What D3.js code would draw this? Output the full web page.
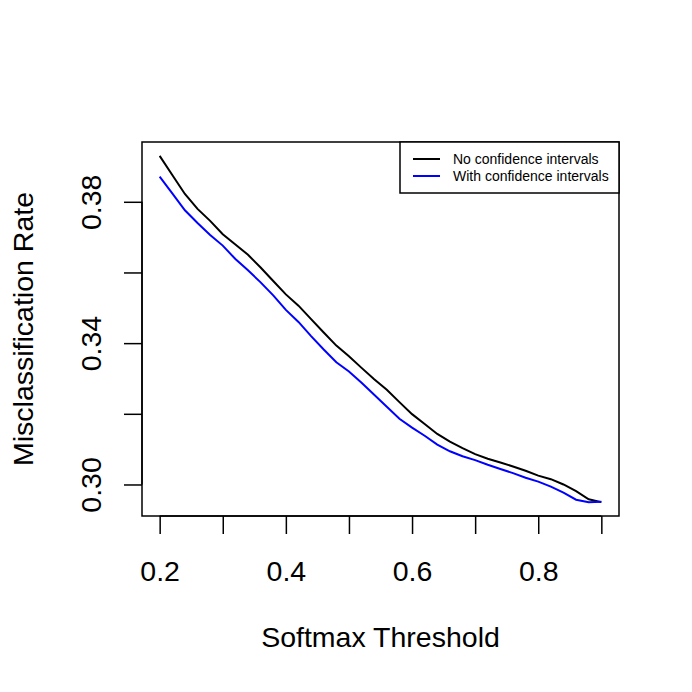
<!DOCTYPE html>
<html><head><meta charset="utf-8">
<script src="https://cdn.jsdelivr.net/npm/d3@7"></script>
<style>body{margin:0;background:#fff}svg{display:block}text{font-family:"Liberation Sans",Arial,sans-serif}</style>
</head><body><svg id="c" width="692" height="692"></svg>
<script>
const thresholds = [0.20,0.22,0.24,0.26,0.28,0.30,0.32,0.34,0.36,0.38,0.40,0.42,0.44,0.46,0.48,0.50,0.52,0.54,0.56,0.58,0.60,0.62,0.64,0.66,0.68,0.70,0.72,0.74,0.76,0.78,0.80,0.82,0.84,0.86,0.88,0.90];
const noCI = [0.3930,0.3876,0.3822,0.3780,0.3746,0.3708,0.3679,0.3650,0.3614,0.3576,0.3538,0.3506,0.3468,0.3430,0.3393,0.3363,0.3330,0.3298,0.3268,0.3233,0.3199,0.3171,0.3143,0.3121,0.3103,0.3086,0.3073,0.3062,0.3051,0.3039,0.3025,0.3015,0.3000,0.2981,0.2958,0.2950];
const withCI = [0.3871,0.3824,0.3776,0.3740,0.3706,0.3676,0.3638,0.3606,0.3572,0.3535,0.3494,0.3460,0.3420,0.3382,0.3346,0.3320,0.3288,0.3254,0.3220,0.3186,0.3161,0.3138,0.3113,0.3094,0.3080,0.3069,0.3056,0.3044,0.3032,0.3019,0.3008,0.2994,0.2977,0.2957,0.2950,0.2951];
const xTicks = [0.2,0.3,0.4,0.5,0.6,0.7,0.8,0.9];
const xLabels = [0.2,0.4,0.6,0.8];
const yTicks = [0.30,0.32,0.34,0.36,0.38];
const yLabels = [0.30,0.34,0.38];
const seriesNames = ["No confidence intervals","With confidence intervals"];
const seriesColors = ["#000000","#0000ff"];

const L=142,R=619,T=142,B=516;
const svg=d3.select("#c");
// R-style 4% padding
const xr=d3.extent(thresholds), xp=(xr[1]-xr[0])*0.04;
const allY=noCI.concat(withCI), yr=d3.extent(allY), yp=(yr[1]-yr[0])*0.04;
const x=d3.scaleLinear().domain([xr[0]-xp,xr[1]+xp]).range([L,R]);
const y=d3.scaleLinear().domain([yr[0]-yp,yr[1]+yp]).range([B,T]);

const fs=28.5;
// x axis
const xa=d3.axisBottom(x).tickValues(xTicks).tickSize(18).tickFormat(d=>xLabels.some(v=>Math.abs(v-d)<1e-9)?d3.format(".1f")(d):"");
const gx=svg.append("g").attr("transform",`translate(0,${B})`).call(xa);
gx.select(".domain").attr("d",`M${x(xTicks[0])},0H${x(xTicks[xTicks.length-1])}`).attr("stroke","#000").attr("stroke-width",1.5);
gx.selectAll(".tick line").attr("stroke","#000").attr("stroke-width",1.5);
gx.selectAll(".tick text").attr("font-size",fs).attr("fill","#000").attr("y",0).attr("dy",null).attr("transform","translate(0,65)").attr("dominant-baseline","auto");

// y axis
const ya=d3.axisLeft(y).tickValues(yTicks).tickSize(18).tickFormat(d=>yLabels.some(v=>Math.abs(v-d)<1e-9)?d3.format(".2f")(d):"");
const gy=svg.append("g").attr("transform",`translate(${L},0)`).call(ya);
gy.select(".domain").attr("d",`M0,${y(yTicks[0])}V${y(yTicks[yTicks.length-1])}`).attr("stroke","#000").attr("stroke-width",1.5);
gy.selectAll(".tick line").attr("stroke","#000").attr("stroke-width",1.5);
gy.selectAll(".tick text").attr("font-size",fs).attr("fill","#000").attr("x",0).attr("dy",null)
  .attr("text-anchor","middle").attr("transform","translate(-41,0) rotate(-90)");

// box
svg.append("rect").attr("x",L).attr("y",T).attr("width",R-L).attr("height",B-T).attr("fill","none").attr("stroke","#000").attr("stroke-width",1.5);

// lines
const line=d3.line().x((d,i)=>x(thresholds[i])).y(d=>y(d));
[noCI,withCI].forEach((s,i)=>{
  svg.append("path").datum(s).attr("d",line).attr("fill","none").attr("stroke",seriesColors[i]).attr("stroke-width",2);
});

// axis titles
svg.append("text").attr("x",(L+R)/2).attr("y",646.5).attr("text-anchor","middle").attr("font-size",fs).text("Softmax Threshold");
svg.append("text").attr("transform",`translate(33,${(T+B)/2}) rotate(-90)`).attr("text-anchor","middle").attr("font-size",fs).text("Misclassification Rate");

// legend
const lg=svg.append("g");
lg.append("rect").attr("x",400).attr("y",T).attr("width",R-400).attr("height",51).attr("fill","#fff").attr("stroke","#000").attr("stroke-width",1.5);
seriesNames.forEach((n,i)=>{
  const yy=159+i*17;
  lg.append("line").attr("x1",413).attr("x2",440).attr("y1",yy).attr("y2",yy).attr("stroke",seriesColors[i]).attr("stroke-width",2);
  lg.append("text").attr("x",453).attr("y",yy+5).attr("font-size",14).text(n);
});
</script></body></html>
